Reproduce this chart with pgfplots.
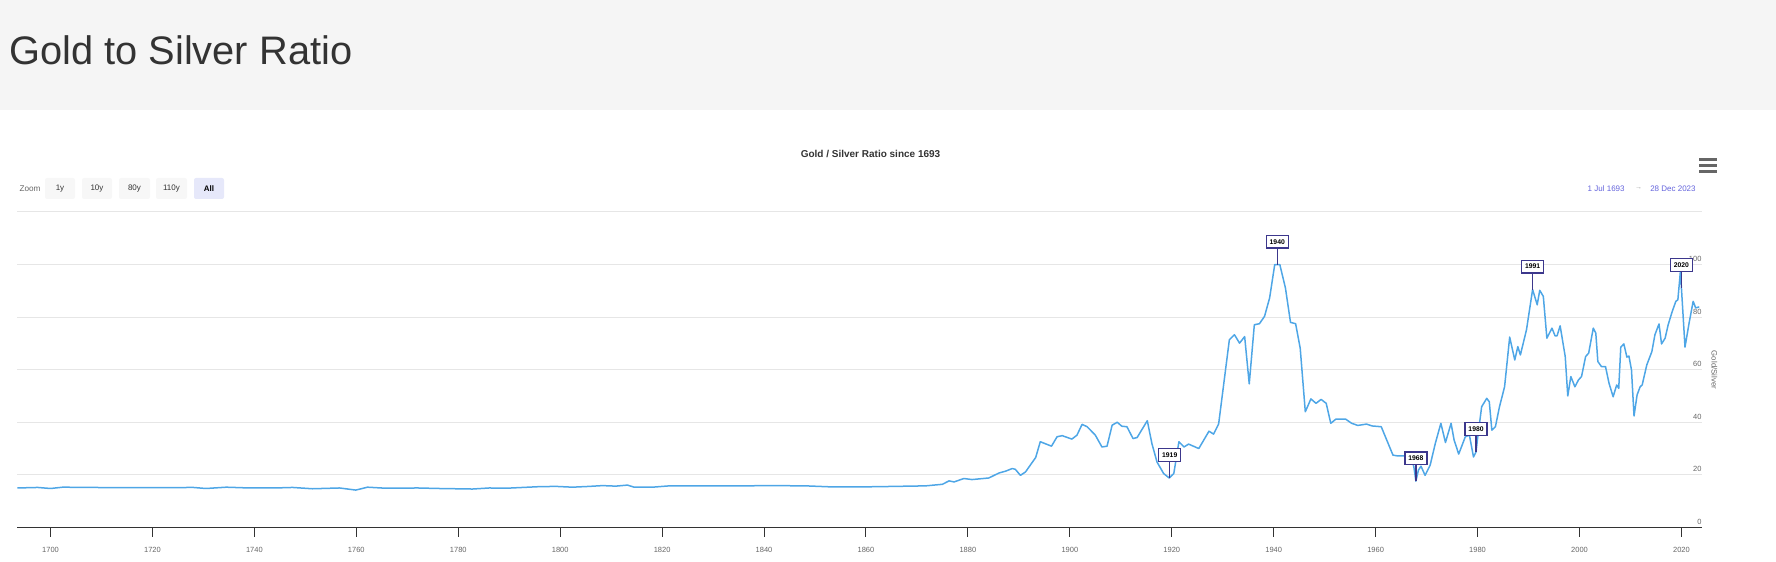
\documentclass[border=0pt]{standalone}
\usepackage{pgfplots}
\pgfplotsset{compat=1.18}
\usepackage{fontspec}
\setmainfont{Liberation Sans}
\definecolor{linec}{RGB}{78,166,230}
\definecolor{gridc}{RGB}{230,230,230}
\definecolor{labc}{RGB}{102,102,102}
\definecolor{axc}{RGB}{51,51,51}
\definecolor{flagc}{RGB}{60,55,140}
\definecolor{headc}{RGB}{245,245,245}
\definecolor{titc}{RGB}{51,51,51}
\definecolor{btnc}{RGB}{247,247,247}
\definecolor{selc}{RGB}{230,232,250}
\definecolor{rangec}{RGB}{100,100,220}
\pgfdeclareplotmark{flagstem}{\pgfpathmoveto{\pgfpointorigin}\pgfpathlineto{\pgfpoint{0pt}{8bp}}\pgfusepathqstroke}
\begin{document}
\begin{tikzpicture}
\path[use as bounding box] (0,0) rectangle (888bp,281bp);
\fill[headc] (0,226bp) rectangle (888bp,281bp);
\node[anchor=base west, inner sep=0, text=titc, font=\fontsize{19.9bp}{24bp}\selectfont] at (4.5bp,248.5bp) {Gold to Silver Ratio};
\node[inner sep=0, text=titc, font=\fontsize{5bp}{6bp}\selectfont\bfseries] at (435.25bp,204bp) {Gold / Silver Ratio since 1693};
% zoom row
\node[anchor=west, inner sep=0, text=labc, font=\fontsize{4.1bp}{5bp}\selectfont] at (9.6bp,186.6bp) {Zoom};
\foreach \a/\b/\t in {22.5/37.5/1y, 41/56/10y, 59.5/75/80y, 78/93.5/110y}{
  \fill[btnc, rounded corners=1bp] (\a bp,181.5bp) rectangle (\b bp,192bp);
  \node[inner sep=0, text=titc, font=\fontsize{4bp}{5bp}\selectfont] at ({(\a+\b)/2*1bp},186.6bp) {\t};
}
\fill[selc, rounded corners=1bp] (97bp,181.5bp) rectangle (112bp,192bp);
\node[inner sep=0, text=black, font=\fontsize{4bp}{5bp}\selectfont\bfseries] at (104.5bp,186.6bp) {All};
% range
\node[anchor=east, inner sep=0, text=rangec, font=\fontsize{4bp}{5bp}\selectfont] at (812.5bp,186.8bp) {1 Jul 1693};
\node[inner sep=0, text=labc!60, font=\fontsize{3.5bp}{4bp}\selectfont] at (819.3bp,186.8bp) {→};
\node[anchor=east, inner sep=0, text=rangec, font=\fontsize{4bp}{5bp}\selectfont] at (848bp,186.8bp) {28 Dec 2023};
% menu icon
\foreach \yy in {201.25,198.25,195.25}{\draw[labc, line width=1.4bp] (849.7bp,\yy bp) -- (858.3bp,\yy bp);}
% y axis title
\node[rotate=-90, inner sep=0, text=labc, font=\fontsize{3.9bp}{5bp}\selectfont] at (857.2bp,96bp) {Gold/Silver};
\begin{axis}[
  at={(8.7bp,17.3bp)}, anchor=south west,
  scale only axis, width=842.2bp, height=157.7bp,
  xmin=1693.5, xmax=2024, ymin=0, ymax=120,
  axis x line*=bottom, axis y line*=right,
  y axis line style={draw=none},
  x axis line style={draw=axc, line width=0.5bp},
  xtick={1700,1720,...,2020},
  xticklabel style={/pgf/number format/1000 sep={}, font=\fontsize{3.75bp}{4.5bp}\selectfont, text=labc, yshift=-1.7bp},
  xtick style={draw=axc, line width=0.5bp},
  major tick length=4.65bp, tick align=outside,
  ytick={0,20,...,120},
  yticklabels={0,20,40,60,80,100,},
  ytick style={draw=none},
  yticklabel style={anchor=south east, inner sep=0pt, font=\fontsize{3.75bp}{4.5bp}\selectfont, text=labc, xshift=-4.65bp, yshift=1.2bp},
  /pgf/number format/assume math mode=true,
  ymajorgrids, grid style={gridc, line width=0.5bp},
  clip=false,
]
\addplot[linec, line width=0.75bp, line join=round] table {
x y
1693.5 15.0
1697.5 15.2
1700.0 14.8
1702.4 15.3
1708.0 15.2
1715.0 15.1
1721.0 15.1
1728.0 15.2
1730.5 14.8
1734.5 15.3
1739.0 15.0
1744.0 15.0
1747.5 15.2
1751.4 14.7
1756.7 15.0
1759.9 14.2
1762.2 15.3
1765.8 14.9
1772.0 15.0
1776.3 14.8
1782.8 14.6
1786.1 15.0
1789.4 14.9
1795.9 15.5
1799.2 15.6
1802.4 15.3
1805.7 15.6
1808.3 15.9
1810.9 15.7
1813.2 16.1
1814.5 15.3
1818.1 15.3
1821.4 15.8
1828.6 15.8
1835.1 15.8
1841.6 15.9
1848.2 15.8
1853.4 15.4
1858.6 15.4
1862.5 15.5
1871.7 15.8
1875.0 16.4
1876.3 17.7
1877.3 17.3
1879.2 18.6
1880.8 18.2
1884.1 18.8
1886.1 20.7
1887.4 21.4
1888.7 22.4
1889.3 22.1
1890.3 19.8
1891.3 21.1
1893.3 26.6
1894.2 32.6
1896.4 30.9
1897.5 34.5
1898.5 34.9
1900.4 33.6
1901.4 35.1
1902.4 39.2
1903.4 38.3
1905.0 35.1
1906.3 30.6
1907.3 30.9
1908.3 38.9
1909.3 40.0
1910.2 38.5
1911.2 38.3
1912.4 33.8
1913.2 34.2
1915.2 40.6
1916.1 31.9
1917.1 24.9
1918.4 20.5
1919.5 18.8
1920.4 20.5
1921.4 32.6
1922.4 30.6
1923.3 31.7
1925.3 30.0
1927.3 36.6
1928.2 35.5
1929.2 39.4
1931.3 71.4
1932.3 73.3
1933.3 70.1
1934.3 72.6
1935.2 54.6
1936.2 77.1
1937.2 77.5
1938.2 80.3
1939.2 87.3
1940.2 100.0
1941.2 100.0
1942.3 91.1
1943.3 78.0
1944.3 77.5
1945.2 68.2
1946.2 44.0
1947.3 48.9
1948.3 47.2
1949.3 48.7
1950.3 47.2
1951.2 39.6
1952.2 41.2
1954.1 41.2
1955.3 39.6
1956.5 38.8
1958.2 39.3
1959.3 38.6
1961.1 38.3
1963.4 27.5
1964.3 27.2
1966.9 27.2
1967.5 23.0
1967.9 17.6
1968.4 21.8
1968.9 23.3
1969.7 19.8
1970.7 23.7
1971.7 31.9
1972.8 39.6
1973.7 32.3
1974.8 39.6
1975.4 33.2
1976.3 27.9
1977.6 34.5
1978.4 35.1
1979.2 26.8
1979.7 28.7
1980.0 33.8
1980.8 45.9
1981.8 49.1
1982.3 47.8
1982.8 37.0
1983.5 38.3
1984.3 45.9
1985.3 53.5
1986.3 72.4
1987.3 63.7
1987.9 68.8
1988.4 65.6
1989.6 75.2
1990.8 90.5
1991.7 84.7
1992.2 90.2
1992.9 87.9
1993.6 72.0
1994.6 75.8
1995.2 72.9
1995.6 72.9
1996.2 76.7
1997.2 65.0
1997.7 50.0
1998.3 57.4
1999.1 53.5
1999.8 56.1
2000.4 57.4
2001.2 65.0
2001.8 66.3
2002.7 75.8
2003.2 73.9
2003.6 63.1
2004.3 61.2
2005.1 61.2
2005.8 54.8
2006.6 49.7
2007.3 54.2
2007.7 52.9
2008.1 68.6
2008.7 69.8
2009.3 64.8
2009.7 65.2
2010.2 59.9
2010.7 42.4
2011.3 50.4
2011.9 53.5
2012.3 54.2
2013.2 61.8
2014.2 66.9
2014.8 73.3
2015.6 77.4
2016.1 69.8
2016.8 72.0
2017.4 77.1
2018.2 82.2
2018.9 86.0
2019.3 86.6
2019.8 97.4
2020.0 91.1
2020.7 68.6
2021.5 77.7
2022.3 86.0
2022.8 83.5
2023.5 83.9
};
\addplot[flagc, only marks, mark=flagstem, mark options={line width=0.6bp},
  nodes near coords, point meta=explicit symbolic,
  every node near coord/.style={anchor=south, yshift=8bp, draw=flagc, line width=0.6bp, fill=white, text=black,
    inner sep=0pt, minimum width=11bp, minimum height=6.3bp, font=\fontsize{3.4bp}{4bp}\selectfont\bfseries}]
  table[meta=label] {
x y label
1919.6 18.8 1919
1940.7 100.0 1940
1967.9 17.6 1968
1979.7 28.7 1980
1990.8 90.5 1991
2020.0 91.1 2020
};
\end{axis}
\end{tikzpicture}
\end{document}
